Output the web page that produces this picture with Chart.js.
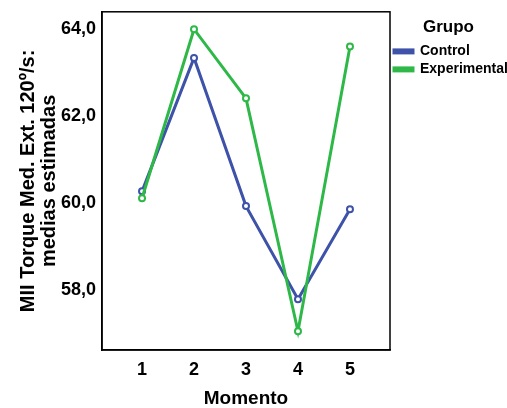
<!DOCTYPE html>
<html>
<head>
<meta charset="utf-8">
<script src="https://cdn.jsdelivr.net/npm/chart.js@4.4.1/dist/chart.umd.min.js"></script>
<style>
  html, body { margin: 0; padding: 0; background: #fff; }
  #wrap { width: 507px; height: 408px; }
</style>
</head>
<body>
<div id="wrap"><canvas id="myChart" width="507" height="408"></canvas></div>
<script>
'use strict';

// categories on the x axis (Momento)
let momentos = [1, 2, 3, 4, 5];

// estimated means per group
let controlValues = [60.27, 63.34, 59.93, 57.79, 59.86];
let experimentalValues = [60.11, 64.0, 62.41, 57.05, 63.6];

// tick labels
let yTicks = [58, 60, 62, 64];

const blue = '#3D52A8';
const green = '#2EB848';

// draw the frame round the plot area
const framePlugin = {
  id: 'frame',
  afterDraw(chart) {
    const a = chart.chartArea;
    const c = chart.ctx;
    c.save();
    c.strokeStyle = '#000';
    c.lineWidth = 1.5;
    c.strokeRect(a.left, a.top, a.right - a.left, a.bottom - a.top);
    c.restore();
  }
};

function toPoints(values) {
  return values.map((v, i) => ({ x: momentos[i], y: v }));
}

const ctx = document.getElementById('myChart').getContext('2d');

const chartObj = {
  type: 'line',
  data: {
    datasets: [{
      label: 'Control',
      data: toPoints(controlValues),
      borderColor: blue,
      backgroundColor: blue,
      borderWidth: 3,
      pointRadius: 3,
      pointBorderWidth: 2,
      pointBackgroundColor: '#fff',
      pointBorderColor: blue,
      order: 1
    },
    {
      label: 'Experimental',
      data: toPoints(experimentalValues),
      borderColor: green,
      backgroundColor: green,
      borderWidth: 3,
      pointRadius: 3,
      pointBorderWidth: 2,
      pointBackgroundColor: '#fff',
      pointBorderColor: green,
      order: 0
    }]
  },
  options: {
    responsive: false,
    animation: false,
    layout: { padding: { top: 10, left: 0, right: 0, bottom: 0 } },
    plugins: {
      tooltip: { enabled: false },
      legend: {
        position: 'right',
        align: 'start',
        maxWidth: 117,
        title: {
          display: true,
          text: 'Grupo',
          color: '#000',
          font: { family: 'Liberation Sans, Arial', size: 17, weight: 'bold' },
          padding: { top: 9, bottom: 1 }
        },
        labels: {
          color: '#000',
          font: { family: 'Liberation Sans, Arial', size: 14, weight: 'bold' },
          boxWidth: 19,
          boxHeight: 3,
          padding: 4,
          sort: (a, b) => a.datasetIndex - b.datasetIndex
        }
      }
    },
    scales: {
      x: {
        type: 'linear',
        min: 0.23,
        max: 5.77,
        afterFit: (s) => { s.height = 58; },
        afterBuildTicks: (s) => { s.ticks = momentos.map(v => ({ value: v })); },
        grid: { display: false, drawTicks: true, tickLength: 6, tickColor: '#000', tickWidth: 1.5 },
        border: { display: true, color: '#000', width: 1.5 },
        ticks: {
          color: '#000',
          padding: 3,
          font: { family: 'Liberation Sans, Arial', size: 18, weight: 'bold' },
          callback: (v) => String(v)
        },
        title: {
          display: true,
          text: 'Momento',
          color: '#000',
          padding: 0,
          font: { family: 'Liberation Sans, Arial', size: 19, weight: 'bold', lineHeight: 1 }
        }
      },
      y: {
        min: 56.62,
        max: 64.4,
        afterFit: (s) => { s.width = 102; },
        afterBuildTicks: (s) => { s.ticks = yTicks.map(v => ({ value: v })); },
        grid: { display: false, drawTicks: true, tickLength: 5, tickColor: '#000', tickWidth: 1.5 },
        border: { display: true, color: '#000', width: 1.5 },
        ticks: {
          color: '#000',
          padding: 1,
          font: { family: 'Liberation Sans, Arial', size: 18, weight: 'bold' },
          callback: (v) => v.toFixed(1).replace('.', ',')
        },
        title: {
          display: true,
          text: ['MII Torque Med. Ext. 120º/s:', 'medias estimadas'],
          color: '#000',
          padding: { top: 17.5, bottom: 0 },
          font: { family: 'Liberation Sans, Arial', size: 20, weight: 'bold', lineHeight: 1.05 }
        }
      }
    }
  },
  plugins: [framePlugin]
};

const myChart = new Chart(ctx, chartObj); // eslint-disable-line
</script>
</body>
</html>
